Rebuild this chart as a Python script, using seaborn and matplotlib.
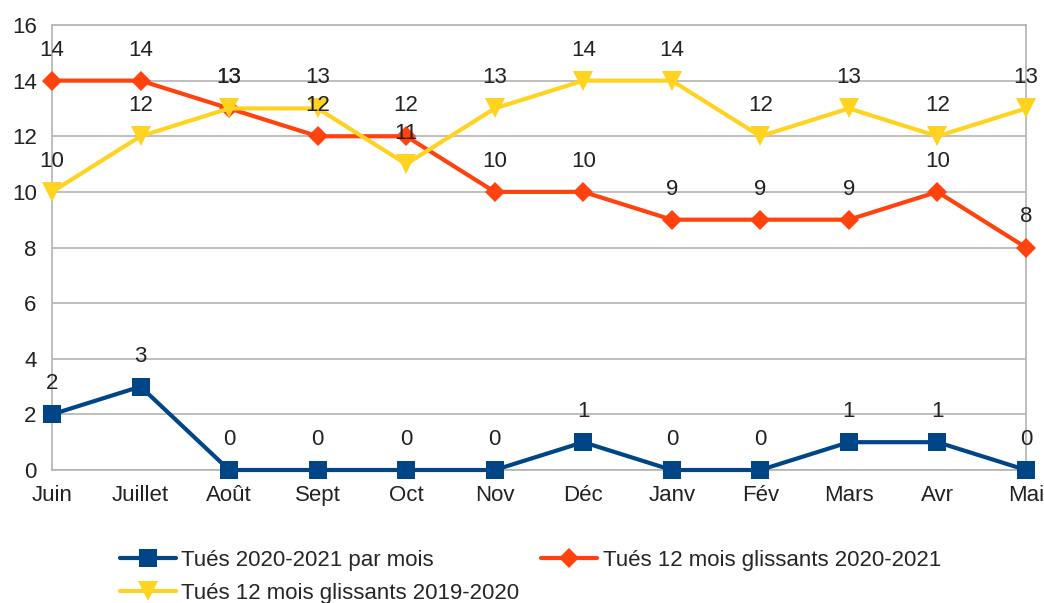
import matplotlib
matplotlib.use("Agg")
import matplotlib.pyplot as plt
import seaborn as sns
import pandas as pd

mois = ["Juin", "Juillet", "Août", "Sept", "Oct", "Nov", "Déc", "Janv", "Fév", "Mars", "Avr", "Mai"]
tues_par_mois = [2, 3, 0, 0, 0, 0, 1, 0, 0, 1, 1, 0]
glissants_2021 = [14, 14, 13, 12, 12, 10, 10, 9, 9, 9, 10, 8]
glissants_2020 = [10, 12, 13, 13, 11, 13, 14, 14, 12, 13, 12, 13]
noms = ["Tués 2020-2021 par mois", "Tués 12 mois glissants 2020-2021", "Tués 12 mois glissants 2019-2020"]

sns.set_theme(style="white")
plt.rcParams['font.family'] = ['Liberation Sans', 'DejaVu Sans']

fig = plt.figure(figsize=(10.44, 6.03), dpi=100)
ax = fig.add_axes([52 / 1044, 1 - 470 / 603, (1026 - 52) / 1044, (470 - 25) / 603])

pos = list(range(len(mois)))
series = [
    (tues_par_mois, "#004586", "s", 13),
    (glissants_2021, "#ff420e", "D", 10),
    (glissants_2020, "#ffd320", "v", 14),
]

for (valeurs, couleur, marqueur, taille), nom in zip(series, noms):
    df = pd.DataFrame({"x": pos, "y": valeurs})
    sns.lineplot(data=df, x="x", y="y", ax=ax, color=couleur, marker=marqueur,
                 markersize=taille, markeredgewidth=0, linewidth=3, label=nom,
                 clip_on=False, zorder=3)
    for xi, yi in zip(pos, valeurs):
        ax.annotate(str(yi), (xi, yi), xytext=(0, 22), textcoords="offset points",
                    ha="center", va="center", fontsize=16, color="#222222", zorder=4)

ax.set_xlim(0, 11)
ax.set_ylim(0, 16)
ax.set_yticks(range(0, 17, 2))
ax.set_xticks(pos)
ax.set_xticklabels(mois)
ax.set_xlabel("")
ax.set_ylabel("")
ax.grid(axis="y", color="#b3b3b3", linewidth=1.2)
ax.tick_params(axis="both", labelsize=16, colors="#222222", length=7, width=1.2,
               color="#b3b3b3", direction="out", pad=4)
ax.tick_params(axis="x", pad=4)
for side, spine in ax.spines.items():
    spine.set_color("#b3b3b3")
    spine.set_linewidth(1.2)

# ordre ligne par ligne comme dans la légende d'origine
handles, labels = ax.get_legend_handles_labels()
ax.get_legend().remove()
ordre = [0, 2, 1]
fig.legend([handles[i] for i in ordre], [labels[i] for i in ordre], ncol=2,
           loc="lower left", bbox_to_anchor=(100 / 1044, -0.035),
           frameon=False, fontsize=16, handlelength=2.5, columnspacing=1.0,
           handletextpad=0.25, labelspacing=0.55)

fig.savefig("out.png", dpi=100)
